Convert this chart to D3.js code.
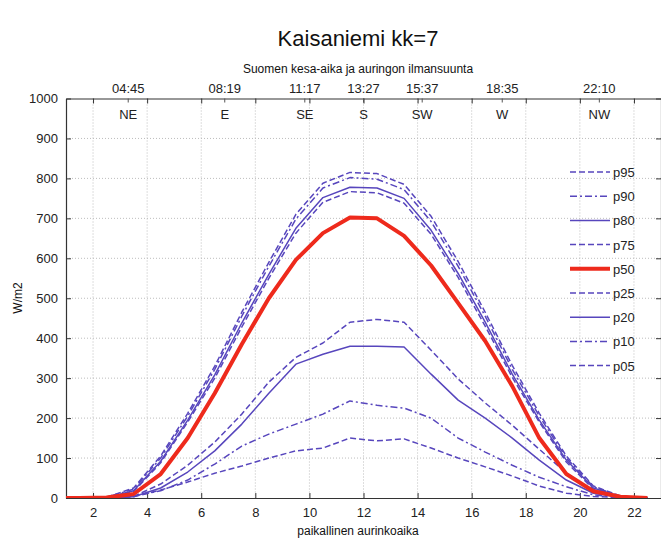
<!DOCTYPE html>
<html>
<head>
<meta charset="utf-8">
<script src="https://cdn.jsdelivr.net/npm/d3@7"></script>
<style>
  body { margin: 0; background: #fff; }
  svg { font-family: "Liberation Sans", Arial, sans-serif; }
  .grid line { stroke: #bdbdbd; stroke-dasharray: 1,2; }
  .axis text { font-size: 13px; fill: #222; }
</style>
</head>
<body>
<svg id="chart" width="661" height="538"></svg>
<script>
"use strict";

// solar hours, half-hour samples
var hours = [0.5, 1.5, 2.5, 3.5, 4.5, 5.5, 6.5, 7.5, 8.5, 9.5, 10.5, 11.5,
             12.5, 13.5, 14.5, 15.5, 16.5, 17.5, 18.5, 19.5, 20.5, 21.5, 22.5];

var p95 = [0, 0, 2, 25, 105, 212, 330, 465, 590, 710, 788, 815, 812, 785, 705, 592, 465, 332, 212, 105, 30, 5, 0];
var p90 = [0, 0, 2, 22, 100, 205, 322, 455, 580, 698, 776, 802, 798, 772, 692, 580, 455, 322, 205, 100, 28, 4, 0];
var p80 = [0, 0, 1, 18, 92, 195, 308, 438, 560, 675, 752, 778, 776, 750, 670, 562, 440, 310, 195, 95, 25, 3, 0];
var p75 = [0, 0, 1, 16, 88, 190, 300, 428, 550, 663, 740, 767, 764, 738, 660, 552, 430, 302, 190, 90, 22, 3, 0];
var p50 = [0, 0, 1, 10, 60, 150, 262, 385, 500, 596, 663, 702, 700, 656, 582, 488, 393, 280, 150, 60, 17, 3, 0];
var p25 = [0, 0, 0, 4, 35, 82, 140, 210, 290, 352, 388, 440, 447, 440, 370, 298, 238, 182, 122, 62, 18, 3, 0];
var p20 = [0, 0, 0, 3, 25, 65, 118, 185, 262, 335, 360, 380, 380, 378, 310, 245, 200, 150, 95, 45, 12, 2, 0];
var p10 = [0, 0, 0, 5, 18, 45, 85, 130, 160, 185, 210, 243, 232, 225, 200, 150, 115, 82, 52, 28, 8, 1, 0];
var p05 = [0, 0, 0, 3, 20, 40, 62, 80, 100, 118, 125, 150, 143, 148, 125, 100, 78, 55, 30, 12, 4, 1, 0];

var seriesNames = ["p95", "p90", "p80", "p75", "p50", "p25", "p20", "p10", "p05"];
var seriesValues = [p95, p90, p80, p75, p50, p25, p20, p10, p05];
var seriesStyles = ["dash", "dashdot", "solid", "dash", "red", "dash", "solid", "dashdot", "dash"];

var xTicks = [2, 4, 6, 8, 10, 12, 14, 16, 18, 20, 22];
var yTicks = [0, 100, 200, 300, 400, 500, 600, 700, 800, 900, 1000];

// top axis: local summer time and sun direction, at solar hours
var sunHours = [3.3, 6.87, 9.83, 12, 14.17, 17.13, 20.72];
var sunTimes = ["04:45", "08:19", "11:17", "13:27", "15:37", "18:35", "22:10"];
var sunDirs = ["NE", "E", "SE", "S", "SW", "W", "NW"];

var margin = { left: 66, right: 0, top: 98.5, bottom: 40 };
var width = 661 - margin.left - margin.right;
var height = 498 - margin.top;

var x = d3.scaleLinear().domain([1, 23]).range([0, width]);
var y = d3.scaleLinear().domain([0, 1000]).range([height, 0]);

var svg = d3.select("#chart");

svg.append("text")
  .attr("x", 358).attr("y", 46)
  .attr("text-anchor", "middle")
  .attr("font-size", 22)
  .attr("fill", "#111")
  .text("Kaisaniemi kk=7");

svg.append("text")
  .attr("x", 358).attr("y", 73)
  .attr("text-anchor", "middle")
  .attr("font-size", 12)
  .attr("fill", "#111")
  .text("Suomen kesa-aika ja auringon ilmansuunta");

var g = svg.append("g")
  .attr("transform", "translate(" + margin.left + "," + margin.top + ")");

g.append("clipPath").attr("id", "plotclip")
  .append("rect").attr("width", width).attr("height", height);

// grid
var grid = g.append("g").attr("class", "grid");
grid.selectAll("line.v")
  .data(xTicks)
  .enter().append("line")
    .attr("class", "v")
    .attr("x1", x).attr("x2", x)
    .attr("y1", 0).attr("y2", height);
grid.selectAll("line.h")
  .data(yTicks.slice(1, -1))
  .enter().append("line")
    .attr("class", "h")
    .attr("x1", 0).attr("x2", width)
    .attr("y1", y).attr("y2", y);

// axes, ticks point inward like the original
var bottomAxis = d3.axisBottom(x).tickValues(xTicks).tickSizeInner(-5).tickSizeOuter(0).tickPadding(10);
var leftAxis = d3.axisLeft(y).tickValues(yTicks).tickSizeInner(-5).tickSizeOuter(0).tickPadding(8)
  .tickFormat(d3.format("d"));

g.append("g").attr("class", "axis")
  .attr("transform", "translate(0," + height + ")")
  .call(bottomAxis);

g.append("g").attr("class", "axis").call(leftAxis);

g.append("g").attr("class", "axis")
  .attr("transform", "translate(" + width + ",0)")
  .call(d3.axisRight(y).tickValues(yTicks).tickSizeInner(-5).tickSizeOuter(0).tickFormat(""));

g.append("g").attr("class", "axis")
  .call(d3.axisTop(x).tickValues(xTicks).tickSizeInner(-5).tickSizeOuter(0).tickFormat(""));

g.selectAll(".axis path, .axis line").attr("stroke", "#333");
g.selectAll(".axis path.domain").attr("stroke-width", 1.2);

// sun time labels above, directions inside
var sun = g.append("g");
sun.selectAll("text.time")
  .data(sunHours)
  .enter().append("text")
    .attr("class", "time")
    .attr("x", x).attr("y", -6)
    .attr("text-anchor", "middle")
    .attr("font-size", 13)
    .attr("fill", "#222")
    .text(function (d, i) { return sunTimes[i]; });
sun.selectAll("line.sun")
  .data(sunHours)
  .enter().append("line")
    .attr("class", "sun")
    .attr("x1", x).attr("x2", x)
    .attr("y1", 0).attr("y2", 4)
    .attr("stroke", "#555");
sun.selectAll("text.dir")
  .data(sunHours)
  .enter().append("text")
    .attr("class", "dir")
    .attr("x", x).attr("y", 20)
    .attr("text-anchor", "middle")
    .attr("font-size", 13)
    .attr("fill", "#222")
    .text(function (d, i) { return sunDirs[i]; });

svg.append("text")
  .attr("transform", "translate(22,298) rotate(-90)")
  .attr("text-anchor", "middle")
  .attr("font-size", 12)
  .attr("fill", "#111")
  .text("W/m2");

svg.append("text")
  .attr("x", 358).attr("y", 535)
  .attr("text-anchor", "middle")
  .attr("font-size", 12)
  .attr("fill", "#111")
  .text("paikallinen aurinkoaika");

// curves
var blue = "#5746bd";
var strokeFor = function (style) { return style === "red" ? "#ee2a1c" : blue; };
var widthFor = function (style) { return style === "red" ? 4 : 1.5; };
var dashFor = function (style) {
  if (style === "dash") return "6,3";
  if (style === "dashdot") return "7,3,2,3";
  return null;
};

var line = d3.line()
  .x(function (d, i) { return x(hours[i]); })
  .y(function (d) { return y(d); });

var curves = g.append("g").attr("clip-path", "url(#plotclip)");
// draw the red median last so it sits on top
var drawOrder = [8, 7, 6, 5, 3, 2, 1, 0, 4];
curves.selectAll("path")
  .data(drawOrder)
  .enter().append("path")
    .attr("d", function (k) { return line(seriesValues[k]); })
    .attr("fill", "none")
    .attr("stroke", function (k) { return strokeFor(seriesStyles[k]); })
    .attr("stroke-width", function (k) { return widthFor(seriesStyles[k]); })
    .attr("stroke-dasharray", function (k) { return dashFor(seriesStyles[k]); })
    .attr("stroke-linejoin", "round");

// legend
var legend = g.append("g")
  .attr("transform", "translate(" + (570 - margin.left) + "," + (172 - margin.top) + ")");
var entries = legend.selectAll("g")
  .data(seriesNames)
  .enter().append("g")
    .attr("transform", function (d, i) { return "translate(0," + (i * 24.2) + ")"; });
entries.append("line")
  .attr("x1", 0).attr("x2", 40)
  .attr("stroke", function (d, i) { return strokeFor(seriesStyles[i]); })
  .attr("stroke-width", function (d, i) { return widthFor(seriesStyles[i]); })
  .attr("stroke-dasharray", function (d, i) { return dashFor(seriesStyles[i]); });
entries.append("text")
  .attr("x", 43).attr("y", 5)
  .attr("font-size", 13)
  .attr("fill", "#222")
  .text(function (d) { return d; });
</script>
</body>
</html>
